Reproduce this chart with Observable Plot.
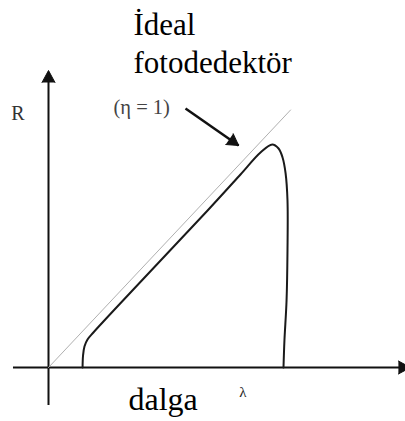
<!DOCTYPE html>
<html>
<head>
<meta charset="utf-8">
<script src="https://cdn.jsdelivr.net/npm/d3@7"></script>
<script src="https://cdn.jsdelivr.net/npm/@observablehq/plot@0.6"></script>
<style>
  html, body { margin: 0; padding: 0; background: #fff; overflow: hidden; }
  #chart svg { display: block; }
  #chart svg, #chart svg text { font-family: "Liberation Serif", "Times New Roman", Times, serif !important; }
</style>
</head>
<body>
<div id="chart"></div>
<script>
// Responsivity R against wavelength λ, normalised so the cut-off wavelength is 1.
// Ideal photodetector (η = 1): R grows linearly with λ.
const idealLambda = [0, 1.03];
const idealR = [0, 1.03];

const realLambda = [0.145, 0.147, 0.153, 0.166, 0.191, 0.349, 0.677, 0.817, 0.902, 0.952, 0.979, 0.996, 1.009, 1.017, 1.017, 1.013, 1.004, 1.0];
const realR      = [0,     0.048, 0.084, 0.112, 0.14,  0.30,  0.628, 0.772, 0.86,  0.892, 0.876, 0.84,  0.776, 0.668, 0.468, 0.268, 0.108, 0];

// Axis extents (λ axis, R axis)
const lambdaAxis = [-0.149, 1.54];
const rAxis = [-0.152, 1.188];

// Annotation arrow pointing at the ideal line
const etaArrow = {from: [0.583, 1.036], to: [0.809, 0.888]};

const ideal = idealLambda.map((l, i) => ({lambda: l, R: idealR[i]}));
const real = realLambda.map((l, i) => ({lambda: l, R: realR[i]}));

const xOpts = {domain: [0, 1], range: [48, 283], axis: null};
const yOpts = {domain: [0, 1], range: [367, 117], axis: null};
const X = Plot.scale({x: xOpts});
const Y = Plot.scale({y: yOpts});

function heading(a, b) {
  const dx = X.apply(b[0]) - X.apply(a[0]);
  const dy = Y.apply(b[1]) - Y.apply(a[1]);
  return Math.atan2(dx, -dy) * 180 / Math.PI;
}

const heads = [
  {x: lambdaAxis[1], y: 0, angle: 90, len: 15},
  {x: 0, y: rAxis[1], angle: 0, len: 15},
  {x: etaArrow.to[0], y: etaArrow.to[1], angle: heading(etaArrow.from, etaArrow.to), len: 14}
];

const serif = "Liberation Serif";

const chart = Plot.plot({
  width: 405,
  height: 421,
  margin: 0,
  x: xOpts,
  y: yOpts,
  style: {background: "#fff"},
  marks: [
    // axes
    Plot.ruleY([0], {x1: lambdaAxis[0], x2: lambdaAxis[1] - 0.03, stroke: "#111", strokeWidth: 2}),
    Plot.ruleX([0], {y1: rAxis[0], y2: rAxis[1] - 0.03, stroke: "#111", strokeWidth: 2}),
    // ideal (η = 1) line
    Plot.line(ideal, {x: "lambda", y: "R", stroke: "#b0b0b0", strokeWidth: 1}),
    // real detector
    Plot.line(real, {x: "lambda", y: "R", stroke: "#1a1a1a", strokeWidth: 2, curve: "catmull-rom"}),
    // annotation arrow shaft
    Plot.link([etaArrow], {
      x1: d => d.from[0], y1: d => d.from[1], x2: d => d.to[0], y2: d => d.to[1],
      stroke: "#111", strokeWidth: 2.5, strokeLinecap: "butt"
    }),
    // arrow heads
    Plot.vector(heads, {
      x: "x", y: "y", rotate: "angle", length: d => d.len, r: 6.5,
      shape: "spike", anchor: "end", fill: "#111", stroke: "#111", strokeWidth: 1
    }),
    // labels
    Plot.text(["İdeal\nfotodedektör"], {
      x: X.invert(133), y: Y.invert(41), text: d => d, textAnchor: "start",
      fontFamily: serif, fontSize: 31, lineHeight: 1.226, fill: "#000"
    }),
    Plot.text(["(η = 1)"], {
      x: X.invert(113), y: Y.invert(107), text: d => d, textAnchor: "start",
      fontFamily: serif, fontSize: 20.5, fill: "#444"
    }),
    Plot.text(["R"], {
      x: X.invert(17.5), y: Y.invert(113.5), text: d => d,
      fontFamily: serif, fontSize: 20, fill: "#333"
    }),
    Plot.text(["λ"], {
      x: X.invert(242.5), y: Y.invert(392), text: d => d,
      fontFamily: serif, fontSize: 15, fill: "#222"
    }),
    Plot.text(["dalga"], {
      x: X.invert(128), y: Y.invert(399), text: d => d, textAnchor: "start",
      fontFamily: serif, fontSize: 32, fill: "#000"
    })
  ]
});

document.getElementById("chart").appendChild(chart);
</script>
</body>
</html>
